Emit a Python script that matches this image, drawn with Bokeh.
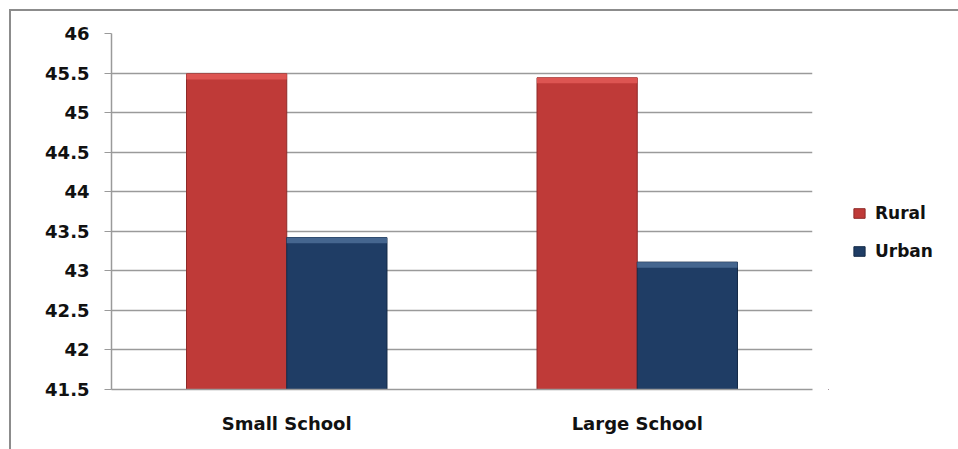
from bokeh.plotting import figure
from bokeh.layouts import row
from bokeh.models import FixedTicker, CustomJSTickFormatter, Legend, LegendItem, ColumnDataSource
from bokeh.transform import dodge
from bokeh.embed import file_html
from bokeh.resources import INLINE

categories = ["Small School", "Large School"]
series = ["Rural", "Urban"]
rural = [45.49, 45.44]
urban = [43.42, 43.11]
y_ticks = [41.5, 42, 42.5, 43, 43.5, 44, 44.5, 45, 45.5, 46]

src = ColumnDataSource(dict(cat=categories, rural=rural, urban=urban,
                            rural_hl=[v - 0.07 for v in rural],
                            urban_hl=[v - 0.07 for v in urban]))

FONT = "DejaVu Sans"
RED, RED_EDGE, RED_HL = "#BF3A38", "#8E2A28", "#DD5552"
BLUE, BLUE_EDGE, BLUE_HL = "#1F3D65", "#142A47", "#45668F"
BORDER = "2px solid #8c8c8c"

p = figure(x_range=categories, y_range=(41.5, 46), width=819, height=440,
           output_backend="svg", toolbar_location=None,
           min_border_left=100, min_border_right=18, min_border_top=22, min_border_bottom=62,
           margin=(9, 0, 0, 9))
p.styles = {"border-top": BORDER, "border-left": BORDER}
p.outline_line_color = None
p.background_fill_color = "white"
p.border_fill_color = "white"

bw = 0.286
p.vbar(x=dodge("cat", -bw / 2, range=p.x_range), top="rural", bottom=41.5, width=bw,
       source=src, fill_color=RED, line_color=RED_EDGE, line_width=1)
p.vbar(x=dodge("cat", bw / 2, range=p.x_range), top="urban", bottom=41.5, width=bw,
       source=src, fill_color=BLUE, line_color=BLUE_EDGE, line_width=1)
p.vbar(x=dodge("cat", -bw / 2, range=p.x_range), top="rural", bottom="rural_hl", width=bw,
       source=src, fill_color=RED_HL, line_color=None)
p.vbar(x=dodge("cat", bw / 2, range=p.x_range), top="urban", bottom="urban_hl", width=bw,
       source=src, fill_color=BLUE_HL, line_color=None)

p.xgrid.grid_line_color = None
p.ygrid.grid_line_color = "#9a9a9a"
p.ygrid.grid_line_width = 1.5
p.yaxis.ticker = FixedTicker(ticks=y_ticks)
p.yaxis.formatter = CustomJSTickFormatter(code="return String(tick)")
for ax in (p.xaxis, p.yaxis):
    ax.axis_line_color = "#9a9a9a"
    ax.axis_line_width = 1.5
    ax.major_label_text_font = FONT
    ax.major_label_text_font_style = "bold"
    ax.major_label_text_font_size = "18px"
    ax.major_label_text_color = "#111111"
    ax.minor_tick_line_color = None
p.yaxis.major_tick_line_color = "#9a9a9a"
p.yaxis.major_tick_out = 7
p.yaxis.major_tick_in = 0
p.yaxis.major_label_standoff = 15
p.xaxis.major_tick_line_color = None
p.xaxis.major_label_standoff = 17

# legend panel
q = figure(width=130, height=440, output_backend="svg", toolbar_location=None,
           min_border=0, margin=(9, 0, 0, 0), x_range=(0, 1), y_range=(0, 1))
q.styles = {"border-top": BORDER}
q.axis.visible = False
q.grid.visible = False
q.outline_line_color = None
q.border_fill_color = "white"
q.background_fill_color = "white"
lsrc = ColumnDataSource(dict(x=[-5.0], top=[-5.0], bottom=[-6.0]))
g1 = q.vbar(x="x", top="top", bottom="bottom", width=0.1, source=lsrc,
            fill_color=RED, line_color=RED_EDGE)
g2 = q.vbar(x="x", top="top", bottom="bottom", width=0.1, source=lsrc,
            fill_color=BLUE, line_color=BLUE_EDGE)
legend = Legend(items=[LegendItem(label=series[0], renderers=[g1]),
                       LegendItem(label=series[1], renderers=[g2])],
                location=(24, 128), orientation="vertical",
                glyph_width=14, glyph_height=12, label_height=20, spacing=18,
                label_standoff=9, padding=0, margin=0,
                border_line_alpha=0, background_fill_alpha=0,
                label_text_font=FONT, label_text_font_style="bold",
                label_text_font_size="17px", label_text_color="#111111")
q.add_layout(legend, "center")

layout = row(p, q)
open("out.html", "w").write(file_html(layout, INLINE))
